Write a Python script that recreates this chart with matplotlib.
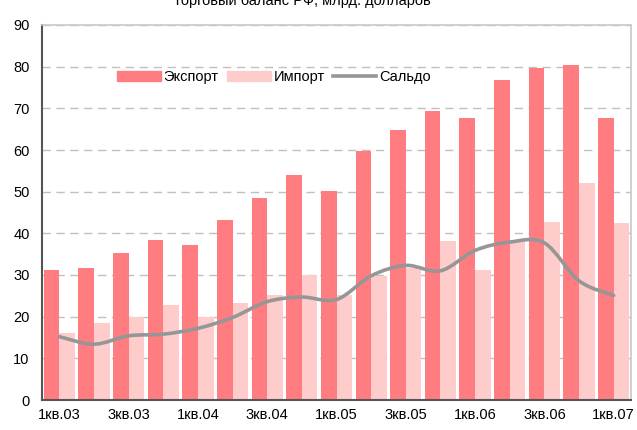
import matplotlib.pyplot as plt
import numpy as np
from matplotlib.path import Path
from matplotlib.patches import PathPatch
from matplotlib.lines import Line2D
from matplotlib.patches import Patch

plt.rcParams['font.family'] = ['Liberation Sans', 'DejaVu Sans']

quarters = ["1кв.03", "2кв.03", "3кв.03", "4кв.03",
            "1кв.04", "2кв.04", "3кв.04", "4кв.04",
            "1кв.05", "2кв.05", "3кв.05", "4кв.05",
            "1кв.06", "2кв.06", "3кв.06", "4кв.06",
            "1кв.07"]
export = [31.3, 31.8, 35.3, 38.5, 37.2, 43.2, 48.5, 54.1,
          50.1, 59.7, 64.7, 69.3, 67.6, 76.7, 79.8, 80.3, 67.6]
imports = [16.0, 18.4, 19.9, 22.8, 19.9, 23.2, 25.2, 30.0,
           25.3, 29.8, 31.7, 38.2, 31.3, 38.4, 42.8, 52.0, 42.4]
saldo = [15.2, 13.4, 15.4, 15.8, 17.2, 19.8, 23.6, 24.7,
         24.1, 29.8, 32.3, 31.0, 35.9, 37.9, 37.7, 28.6, 25.1]

title = "Торговый баланс РФ, млрд. долларов"

fig = plt.figure(figsize=(6.37, 4.30), dpi=100)
ax = fig.add_axes([42 / 637, 30 / 430, 589 / 637, 375 / 430])

x = np.arange(len(quarters))
w = 0.45
ax.bar(x - w / 2, export, width=w, color='#FF7C80', zorder=2)
ax.bar(x + w / 2, imports, width=w, color='#FFCCCC', zorder=2)

# smoothed line like excel: catmull-rom -> bezier segments
pts = np.column_stack([x, saldo]).astype(float)
verts = [pts[0]]
codes = [Path.MOVETO]
for i in range(len(pts) - 1):
    p0 = pts[i - 1] if i > 0 else pts[i]
    p1 = pts[i]
    p2 = pts[i + 1]
    p3 = pts[i + 2] if i + 2 < len(pts) else pts[i + 1]
    c1 = p1 + (p2 - p0) / 6
    c2 = p2 - (p3 - p1) / 6
    verts += [c1, c2, p2]
    codes += [Path.CURVE4] * 3
ax.add_patch(PathPatch(Path(verts, codes), facecolor='none',
                       edgecolor='#969696', lw=2.6, zorder=3,
                       capstyle='round', joinstyle='round'))

ax.set_xlim(-0.5, len(quarters) - 0.5)
ax.set_ylim(0, 90)
ax.set_yticks(range(0, 91, 10))
ax.set_xticks(x[::2])
ax.set_xticklabels(quarters[::2])
ax.tick_params(axis='both', length=0, labelsize=10.5)
ax.tick_params(axis='y', pad=9)
ax.tick_params(axis='x', pad=6)

ax.yaxis.grid(True, linestyle=(0, (6, 4)), color='#c0c0c0', lw=1.0, zorder=1)
ax.set_axisbelow(True)
for s in ['top', 'right']:
    ax.spines[s].set_color('#c8c8c8')
    ax.spines[s].set_linewidth(1.2)
for s in ['left', 'bottom']:
    ax.spines[s].set_color('#555555')
    ax.spines[s].set_linewidth(1.5)

handles = [Patch(color='#FF7C80'), Patch(color='#FFCCCC'),
           Line2D([], [], color='#969696', lw=2.6)]
fig.legend(handles, ["Экспорт", "Импорт", "Сальдо"], loc='center left',
           bbox_to_anchor=(104 / 637, 1 - 77 / 430), ncol=3, frameon=False,
           fontsize=10.5, handlelength=3.0, handleheight=0.75,
           handletextpad=0.2, columnspacing=0.55)

fig.text(302 / 637, 1 - 5 / 430, title, ha='center', va='baseline', fontsize=10.5)

plt.savefig('out.png', dpi=100)
